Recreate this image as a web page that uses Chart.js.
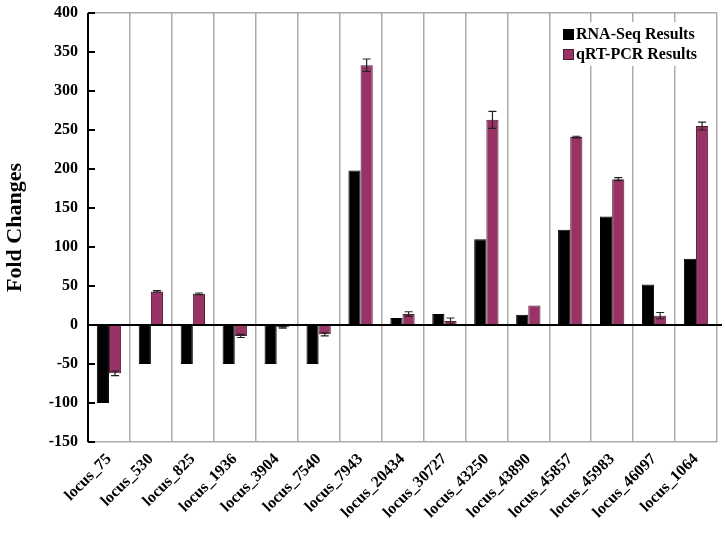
<!DOCTYPE html>
<html>
<head>
<meta charset="utf-8">
<script src="https://cdn.jsdelivr.net/npm/chart.js@4/dist/chart.umd.min.js"></script>
<style>
html,body{margin:0;padding:0;background:#fff;}
#wrap{width:725px;height:535px;position:relative;}
</style>
</head>
<body>
<div id="wrap"><canvas id="c" width="725" height="535"></canvas></div>
<script>
const categories = ["locus_75","locus_530","locus_825","locus_1936","locus_3904","locus_7540","locus_7943","locus_20434","locus_30727","locus_43250","locus_43890","locus_45857","locus_45983","locus_46097","locus_1064"];
const rnaSeq = [-100,-50,-50,-50,-50,-50,198,9,14,110,13,122,139,52,85];
const qrtPcr = [-62,43,40,-14,-3,-12,333,14,5,263,25,241,187,12,255];
const qrtErr = [3,1,1,2,1,2,8,3,4,11,0,1,2,4,5];
const seriesNames = ["RNA-Seq Results","qRT-PCR Results"];
const yTicks = [-150,-100,-50,0,50,100,150,200,250,300,350,400];

const FONT = "'Liberation Serif','Times New Roman',serif";

const errorBars = {
  id:'errorBars',
  afterDatasetsDraw(chart){
    const ctx = chart.ctx, ys = chart.scales.y;
    const meta = chart.getDatasetMeta(1);
    ctx.save();
    ctx.strokeStyle = '#222';
    ctx.lineWidth = 1.2;
    meta.data.forEach((bar,i)=>{
      const e = qrtErr[i]; if(!e) return;
      const v = qrtPcr[i];
      const y1 = ys.getPixelForValue(v+e), y2 = ys.getPixelForValue(v-e);
      const x = bar.x;
      ctx.beginPath();
      ctx.moveTo(x,y1); ctx.lineTo(x,y2);
      ctx.moveTo(x-4,y1); ctx.lineTo(x+4,y1);
      ctx.moveTo(x-4,y2); ctx.lineTo(x+4,y2);
      ctx.stroke();
    });
    ctx.restore();
  }
};

const frame = {
  id:'frame',
  afterDraw(chart){
    const ctx = chart.ctx, ys = chart.scales.y, a = chart.chartArea;
    ctx.save();
    const y0 = ys.getPixelForValue(0);
    ctx.strokeStyle='#000'; ctx.lineWidth=2;
    ctx.beginPath(); ctx.moveTo(a.left,y0); ctx.lineTo(a.right+5,y0); ctx.stroke();
    ctx.beginPath(); ctx.moveTo(a.left,a.top); ctx.lineTo(a.left,a.bottom); ctx.stroke();
    yTicks.forEach(t=>{
      const y = ys.getPixelForValue(t);
      ctx.beginPath(); ctx.moveTo(a.left,y); ctx.lineTo(a.left+7,y); ctx.stroke();
    });
    // legend
    ctx.fillStyle='#fff';
    ctx.fillRect(556,22,152,44);
    const items=[['#000000','#000000'],['#993366','#4a1a30']];
    ctx.font = "bold 16px "+FONT;
    ctx.textBaseline='middle'; ctx.textAlign='left';
    items.forEach((it,i)=>{
      const yy = 34 + i*20;
      ctx.fillStyle=it[0]; ctx.fillRect(563,yy-5,11,11);
      ctx.strokeStyle=it[1]; ctx.lineWidth=1; ctx.strokeRect(563.5,yy-4.5,10,10);
      ctx.fillStyle='#000'; ctx.fillText(seriesNames[i],576,yy+1);
    });
    ctx.restore();
  }
};

new Chart(document.getElementById('c'),{
  type:'bar',
  data:{
    labels:categories,
    datasets:[
      {label:seriesNames[0],data:rnaSeq,backgroundColor:'#000000',borderColor:'#000000',borderWidth:1},
      {label:seriesNames[1],data:qrtPcr,backgroundColor:'#993366',borderColor:'#4a1a30',borderWidth:1}
    ]
  },
  options:{
    responsive:false,
    animation:false,
    layout:{padding:{left:2,right:8,top:13,bottom:0}},
    datasets:{bar:{categoryPercentage:0.58,barPercentage:1.0}},
    plugins:{legend:{display:false},tooltip:{enabled:false}},
    scales:{
      x:{
        offset:true,
        grid:{offset:true,color:'#aaaaaa',lineWidth:1.5,drawTicks:false},
        border:{color:'#aaaaaa',width:1.5},
        ticks:{color:'#000',font:{family:FONT,size:16,weight:'bold'},maxRotation:45,minRotation:45,padding:8},
        afterFit(s){s.height=93; s.paddingTop=0;}
      },
      y:{
        min:-150,max:400,
        afterBuildTicks(s){s.ticks=yTicks.map(v=>({value:v}));},
        grid:{drawTicks:false,color:(c)=>(c.tick&&c.tick.value===400)?'#aaaaaa':'rgba(0,0,0,0)',lineWidth:1.5},
        border:{display:false},
        ticks:{color:'#000',font:{family:FONT,size:16,weight:'bold'},padding:10},
        title:{display:true,text:'Fold Changes',color:'#000',font:{family:FONT,size:22,weight:'bold'},padding:{top:0,bottom:10}},
        afterFit(s){s.width=86; s.paddingTop=0; s.paddingBottom=0;}
      }
    }
  },
  plugins:[errorBars,frame]
});
</script>
</body>
</html>
